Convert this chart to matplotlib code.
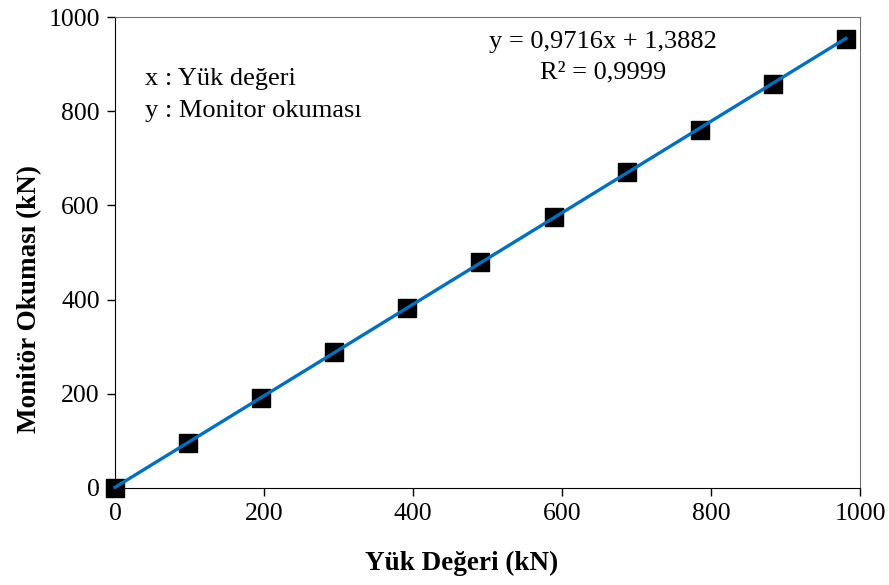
import matplotlib.pyplot as plt
import numpy as np

plt.rcParams['font.family'] = ['Liberation Serif', 'DejaVu Serif']

yuk = [0, 98.1, 196.2, 294.3, 392.4, 490.5, 588.6, 686.7, 784.8, 882.9, 981.0]
monitor = [0, 96, 191, 288, 382, 479, 576, 670, 761, 858, 953]
egim = 0.9716
kesim = 1.3882

fig = plt.figure(figsize=(8.89, 5.85), dpi=100)
ax = fig.add_axes([115/889, 1 - 488/585, (860 - 115)/889, (488 - 17)/585])

xx = np.array([yuk[0], yuk[-1]])
ax.plot(yuk, monitor, 's', color='black', markersize=12.5, zorder=3, clip_on=False)
ax.plot(xx, egim * xx + kesim, color='#0070C0', lw=2.4, zorder=4, clip_on=False)

ax.set_xlim(0, 1000)
ax.set_ylim(0, 1000)
ax.set_xticks(range(0, 1001, 200))
ax.set_yticks(range(0, 1001, 200))
ax.tick_params(direction='out', length=6, width=1, labelsize=18.5, colors='black', pad=5)
for s in ['top', 'right']:
    ax.spines[s].set_color('#707070')
for s in ['left', 'bottom']:
    ax.spines[s].set_color('black')

ax.set_xlabel('Yük Değeri (kN)', fontsize=19.5, fontweight='bold')
ax.set_ylabel('Monitör Okuması (kN)', fontsize=19.5, fontweight='bold')
ax.xaxis.set_label_coords((462 - 115) / 745, -(551 - 488) / 471, transform=ax.transAxes)
ax.yaxis.set_label_coords(-(115 - 42) / 745, (488 - 299) / 471, transform=ax.transAxes)

ax.text(0.655, 0.947, 'y = 0,9716x + 1,3882', transform=ax.transAxes, fontsize=19, ha='center', va='center')
ax.text(0.655, 0.883, 'R² = 0,9999', transform=ax.transAxes, fontsize=19, ha='center', va='center')
ax.text(0.04, 0.868, 'x : Yük değeri', transform=ax.transAxes, fontsize=19, ha='left', va='center')
ax.text(0.04, 0.80, 'y : Monitor okuması', transform=ax.transAxes, fontsize=19, ha='left', va='center')

fig.savefig('out.png', dpi=100)
